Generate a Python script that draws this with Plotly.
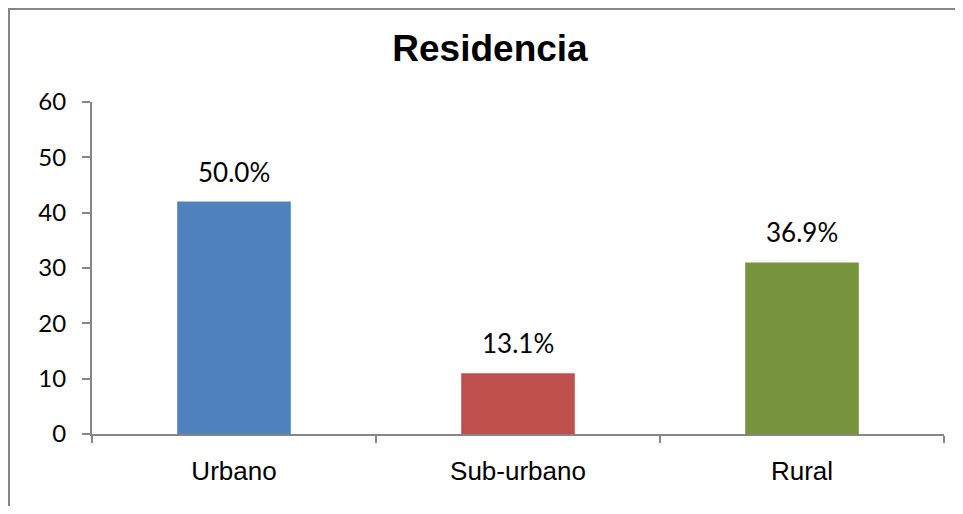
import plotly.graph_objects as go

categorias = ["Urbano", "Sub-urbano", "Rural"]
valores = [42, 11, 31]
porcentajes = ["50.0%", "13.1%", "36.9%"]
colores = ["#4f81bd", "#c0504d", "#77933c"]

# page has an 8px body margin, so the figure is sized to fit inside it
W, H = 947, 498
L, R, T, B = 84, 11, 94, 72
pw, ph = W - L - R, H - T - B

fig = go.Figure()
fig.add_trace(go.Bar(
    x=categorias, y=valores,
    marker=dict(color=colores, line=dict(width=0)),
    width=0.4,
))

for c, v, p in zip(categorias, valores, porcentajes):
    fig.add_annotation(x=c, y=v, text=p, showarrow=False,
                       yanchor="bottom", yshift=12,
                       font=dict(family="Lato", size=26, color="black"))

# outer chart frame: only left and top edges show in the original
fx = 1 / pw - L / pw
fy = 1 + (T - 1) / ph
fig.add_shape(type="path", xref="paper", yref="paper",
              path=f"M {fx},{-B / ph} L {fx},{fy} L {(W - L) / pw},{fy}",
              line=dict(color="#868686", width=2), layer="below")

fig.update_layout(
    width=W, height=H,
    margin=dict(l=L, r=R, t=T, b=B),
    paper_bgcolor="white", plot_bgcolor="white",
    showlegend=False,
    title=dict(text="<b>Residencia</b>", x=482 / W, xanchor="center",
               y=1 - 40 / H, yanchor="middle", yref="container",
               font=dict(family="Liberation Sans", size=37, color="black")),
)
fig.update_xaxes(
    type="category", showline=True, linecolor="#868686", linewidth=2,
    ticks="outside", tickson="boundaries", ticklen=7, tickcolor="#868686",
    tickwidth=2, showgrid=False, ticklabelstandoff=13,
    tickfont=dict(family="Liberation Sans", size=26, color="black"),
)
fig.update_yaxes(
    range=[0, 60], dtick=10, showline=True, linecolor="#868686", linewidth=2,
    ticks="outside", ticklen=8, tickcolor="#868686", tickwidth=2,
    showgrid=False, zeroline=False, ticklabelstandoff=11,
    tickfont=dict(family="Lato", size=24, color="black"),
)

fig.write_html("out.html")
